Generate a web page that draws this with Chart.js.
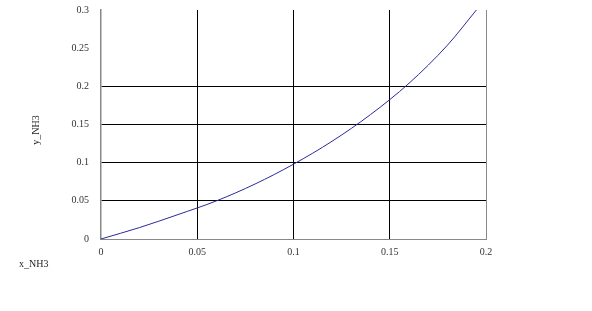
<!DOCTYPE html>
<html>
<head>
<meta charset="utf-8">
<script src="https://cdn.jsdelivr.net/npm/chart.js@4"></script>
<style>
  html, body { margin: 0; padding: 0; background: #fff; }
  #wrap { width: 592px; height: 311px; }
</style>
</head>
<body>
<div id="wrap"><canvas id="chart" width="592" height="311"></canvas></div>
<script>
// --- Data ---
const xNH3 = [0, 0.02, 0.04, 0.06, 0.08, 0.10, 0.12, 0.14, 0.16, 0.18, 0.195];
const yNH3 = [0, 0.015, 0.032, 0.050, 0.072, 0.098, 0.128, 0.163, 0.204, 0.254, 0.300];
const xTickLabels = ['0', '0.05', '0.1', '0.15', '0.2'];
const yTickLabels = ['0', '0.05', '0.1', '0.15', '0.2', '0.25', '0.3'];
const xTitle = 'x_NH3';
const yTitle = 'y_NH3';

const tickFont = { family: '"Liberation Serif", "DejaVu Serif", serif', size: 10 };

// axis titles sit off to the left like in the original export
const titlesPlugin = {
    id: 'axisTitles',
    afterDraw(chart) {
        const { ctx } = chart;
        ctx.save();
        ctx.fillStyle = '#222';
        ctx.font = '10px "Liberation Serif", serif';
        ctx.textBaseline = 'middle';
        ctx.textAlign = 'left';
        ctx.fillText(xTitle, 19, 264);
        ctx.translate(36, 130);
        ctx.rotate(-Math.PI / 2);
        ctx.textAlign = 'center';
        ctx.fillText(yTitle, 0, 0);
        ctx.restore();
    }
};

new Chart(document.getElementById('chart'), {
    type: 'scatter',
    data: {
        datasets: [{
            data: xNH3.map((x, i) => ({ x, y: yNH3[i] })),
            showLine: true,
            borderColor: '#2a2a9a',
            borderWidth: 1,
            pointRadius: 0,
            cubicInterpolationMode: 'monotone'
        }]
    },
    options: {
        responsive: false,
        animation: false,
        layout: { padding: { top: 10, right: 106, left: 0, bottom: 0 } },
        plugins: { legend: { display: false }, tooltip: { enabled: false } },
        scales: {
            x: {
                type: 'linear',
                min: 0, max: 0.2,
                afterFit: s => { s.height = 72; },
                afterBuildTicks: s => { s.ticks = xTickLabels.map(v => ({ value: parseFloat(v) })); },
                ticks: {
                    color: '#333', font: tickFont, padding: 7, maxRotation: 0,
                    callback: (v, i) => xTickLabels[i]
                },
                grid: {
                    drawTicks: false,
                    color: c => (c.tick && c.tick.value > 0 && c.tick.value < 0.2) ? '#000' : (c.tick && c.tick.value >= 0.2 ? '#888' : 'rgba(0,0,0,0)'),
                    lineWidth: 1
                },
                border: { color: '#888', width: 1 }
            },
            y: {
                min: 0, max: 0.3,
                afterFit: s => { s.width = 101; s.paddingTop = 0; s.paddingBottom = 0; },
                afterBuildTicks: s => { s.ticks = yTickLabels.map(v => ({ value: parseFloat(v) })); },
                ticks: {
                    color: '#333', font: tickFont, padding: 12,
                    callback: (v, i) => yTickLabels[i]
                },
                grid: {
                    drawTicks: false,
                    color: c => (c.tick && c.tick.value > 0 && c.tick.value < 0.22) ? '#000' : 'rgba(0,0,0,0)',
                    lineWidth: 1
                },
                border: { color: '#888', width: 1.5 }
            }
        }
    },
    plugins: [titlesPlugin]
});
</script>
</body>
</html>
